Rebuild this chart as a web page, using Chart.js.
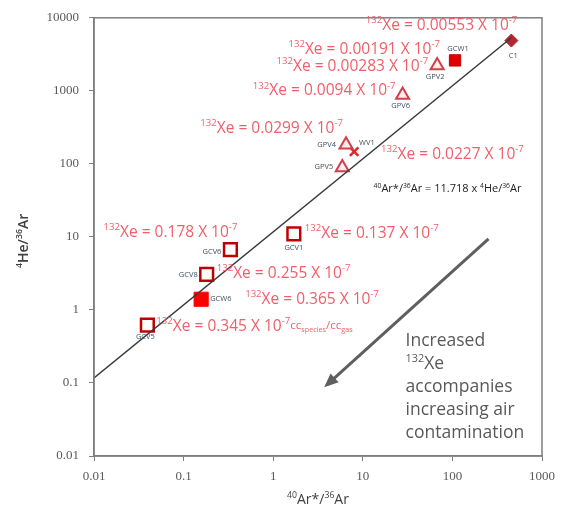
<!DOCTYPE html>
<html>
<head>
<meta charset="utf-8">
<script src="https://cdn.jsdelivr.net/npm/chart.js@4.4.1/dist/chart.umd.min.js"></script>
<style>
  html, body { margin: 0; padding: 0; background: #fff; }
  canvas { display: block; }
</style>
</head>
<body>
<canvas id="myChart" width="563" height="512"></canvas>
<script>
// sample data
const samples = ['C1', 'GCW1', 'GPV2', 'GPV6', 'GPV4', 'WV1', 'GPV5', 'GCV6', 'GCV1', 'GCV8', 'GCW6', 'GCV5'];
const arRatio = [455, 107, 67.6, 27.8, 6.5, 8.0, 5.9, 0.333, 1.70, 0.181, 0.157, 0.0394];
const heRatio = [4875, 2610, 2230, 875, 183, 147, 89, 6.7, 11.0, 3.06, 1.40, 0.62];
const xe132 = ['0.00553', '0.00191', '0.00283', '0.0094', '0.0299', '0.0227', null, '0.178', '0.137', '0.255', '0.365', '0.345'];
const kinds = ['diamond', 'solidSquare', 'triangle', 'triangle', 'triangle', 'cross', 'triangle', 'openSquare', 'openSquare', 'openSquare', 'bigSquare', 'openSquare'];

// fitted line and arrow
const slope = 11.718;
const lineX = [0.01, 455];
const arrowX = [253, 4.0];
const arrowY = [9.4, 0.095];

const xTicks = [0.01, 0.1, 1, 10, 100, 1000];
const yTicks = [0.01, 0.1, 1, 10, 100, 1000, 10000];

// where the text goes, in px relative to the point
const xeLabelPos = {
  C1: [6, -15, 'right'], GCW1: [-15, -11, 'right'], GPV2: [-9, 1, 'right'], GPV6: [-7, -4, 'right'],
  GPV4: [-3, -16, 'right'], WV1: [27, 3, 'left'], GCV6: [7, -17, 'right'], GCV1: [11, 0, 'left'],
  GCV8: [10, -1, 'left'], GCW6: [44, 0, 'left'], GCV5: [9, 1, 'left']
};
const nameLabelPos = {
  C1: [2, 15, 'center'], GCW1: [3, -12, 'center'], GPV2: [-2, 11, 'center'], GPV6: [-2, 11, 'center'],
  GPV4: [-10, 0, 'right'], WV1: [5, -9, 'left'], GPV5: [-9, -1, 'right'], GCV6: [-9, 2, 'right'],
  GCV1: [0, 14, 'center'], GCV8: [-9, 0, 'right'], GCW6: [9, 0, 'left'], GCV5: [-2, 12, 'center']
};

const styles = {
  diamond: { pointStyle: 'rectRot', radius: 6.5, bg: '#B3262E', border: '#9E1F26', width: 1 },
  solidSquare: { pointStyle: 'rect', radius: 8, bg: '#E00000', border: '#C00000', width: 1 },
  bigSquare: { pointStyle: 'rect', radius: 10, bg: '#FF0000', border: '#FF0000', width: 1 },
  openSquare: { pointStyle: 'rect', radius: 9, bg: '#FFFFFF', border: '#C00000', width: 2.5 },
  triangle: { pointStyle: 'triangle', radius: 7.5, bg: 'rgba(255,230,230,0.7)', border: '#D0404A', width: 2 },
  cross: { pointStyle: 'crossRot', radius: 6, bg: '#E02828', border: '#E02828', width: 2.5 }
};

const textRed = '#EF5F69';
const sans = '"Open Sans", sans-serif';

function xeSegs(i) {
  let segs = [{ t: '132', s: 'sup' }, { t: 'Xe = ' + xe132[i] + ' X 10' }, { t: '-7', s: 'sup' }];
  if (samples[i] === 'GCV5') {
    segs = segs.concat([{ t: 'cc', k: 0.75 }, { t: 'species', s: 'sub', k: 0.75 }, { t: '/cc', k: 0.75 }, { t: 'gas', s: 'sub', k: 0.75 }]);
  }
  return segs;
}

function drawRich(ctx, segs, x, y, align, size, color, weight) {
  weight = weight || 'normal';
  let total = 0;
  segs.forEach(sg => {
    const base = size * (sg.k || 1);
    const fs = sg.s ? base * 0.62 : base;
    ctx.font = weight + ' ' + fs + 'px ' + sans;
    sg.w = ctx.measureText(sg.t).width;
    sg.fs = fs;
    total += sg.w;
  });
  let cx = x;
  if (align === 'right') cx = x - total;
  if (align === 'center') cx = x - total / 2;
  ctx.fillStyle = color;
  ctx.textBaseline = 'middle';
  ctx.textAlign = 'left';
  segs.forEach(sg => {
    ctx.font = weight + ' ' + sg.fs + 'px ' + sans;
    let dy = 0;
    if (sg.s === 'sup') dy = -size * 0.33;
    if (sg.s === 'sub') dy = size * 0.22;
    ctx.fillText(sg.t, cx, y + dy);
    cx += sg.w;
  });
}

const datasets = [];

datasets.push({
  type: 'line',
  data: lineX.map(x => ({ x: x, y: x * slope })),
  borderColor: '#3A3A3A',
  borderWidth: 1.5,
  pointRadius: 0,
  fill: false
});

datasets.push({
  type: 'line',
  data: arrowX.map((x, i) => ({ x: x, y: arrowY[i] })),
  borderColor: '#5F5F5F',
  borderWidth: 3,
  pointRadius: 0,
  fill: false
});

Object.keys(styles).forEach(kind => {
  const st = styles[kind];
  const pts = [];
  samples.forEach((s, i) => {
    if (kinds[i] === kind) pts.push({ x: arRatio[i], y: heRatio[i] });
  });
  datasets.push({
    type: 'scatter',
    data: pts,
    pointStyle: st.pointStyle,
    pointRadius: st.radius,
    backgroundColor: st.bg,
    borderColor: st.border,
    pointBorderWidth: st.width
  });
});

const annotations = {
  id: 'annotations',
  afterDraw(chart) {
    const ctx = chart.ctx;
    const xs = chart.scales.x, ys = chart.scales.y;
    const area = chart.chartArea;
    ctx.save();

    // box
    ctx.strokeStyle = '#7F7F7F';
    ctx.lineWidth = 1.5;
    ctx.strokeRect(area.left, area.top, area.right - area.left, area.bottom - area.top);

    // arrow head
    const ax0 = xs.getPixelForValue(arrowX[0]), ay0 = ys.getPixelForValue(arrowY[0]);
    const ax1 = xs.getPixelForValue(arrowX[1]), ay1 = ys.getPixelForValue(arrowY[1]);
    const ang = Math.atan2(ay1 - ay0, ax1 - ax0);
    ctx.fillStyle = '#5F5F5F';
    ctx.beginPath();
    ctx.moveTo(ax1 + 4 * Math.cos(ang), ay1 + 4 * Math.sin(ang));
    ctx.lineTo(ax1 - 10 * Math.cos(ang) + 6 * Math.sin(ang), ay1 - 10 * Math.sin(ang) - 6 * Math.cos(ang));
    ctx.lineTo(ax1 - 10 * Math.cos(ang) - 6 * Math.sin(ang), ay1 - 10 * Math.sin(ang) + 6 * Math.cos(ang));
    ctx.closePath();
    ctx.fill();

    // sample names and xenon labels
    samples.forEach((s, i) => {
      const px = xs.getPixelForValue(arRatio[i]);
      const py = ys.getPixelForValue(heRatio[i]);
      const n = nameLabelPos[s];
      ctx.font = '7.5px ' + sans;
      ctx.fillStyle = '#3E5060';
      ctx.textAlign = n[2];
      ctx.textBaseline = 'middle';
      ctx.fillText(s, px + n[0], py + n[1]);
      if (xe132[i]) {
        const p = xeLabelPos[s];
        drawRich(ctx, xeSegs(i), px + p[0], py + p[1], p[2], 15.5, textRed);
      }
    });

    // line equation
    drawRich(ctx, [{ t: '40', s: 'sup' }, { t: 'Ar*/' }, { t: '36', s: 'sup' }, { t: 'Ar = 11.718 x ' },
      { t: '4', s: 'sup' }, { t: 'He/' }, { t: '36', s: 'sup' }, { t: 'Ar' }],
      xs.getPixelForValue(13.2), ys.getPixelForValue(45), 'left', 11, '#222222');

    // contamination note
    const nx = xs.getPixelForValue(30);
    const ny = ys.getPixelForValue(0.37);
    const note = [
      [{ t: 'Increased' }],
      [{ t: '132', s: 'sup' }, { t: 'Xe' }],
      [{ t: 'accompanies' }],
      [{ t: 'increasing air' }],
      [{ t: 'contamination' }]
    ];
    note.forEach((segs, k) => drawRich(ctx, segs, nx, ny + k * 23, 'left', 17.5, '#595959'));

    // axis titles
    drawRich(ctx, [{ t: '40', s: 'sup' }, { t: 'Ar*/' }, { t: '36', s: 'sup' }, { t: 'Ar' }],
      (area.left + area.right) / 2, 500, 'center', 14, '#404040');
    ctx.translate(24, (area.top + area.bottom) / 2 + 4);
    ctx.rotate(-Math.PI / 2);
    drawRich(ctx, [{ t: '4', s: 'sup' }, { t: 'He/' }, { t: '36', s: 'sup' }, { t: 'Ar' }],
      0, 0, 'center', 14, '#404040', '600');
    ctx.restore();
  }
};

const tickFont = { family: '"Liberation Serif", serif', size: 13 };

const config = {
  data: { datasets: datasets },
  options: {
    responsive: false,
    animation: false,
    layout: { padding: { top: 14, right: 17, left: 0, bottom: 0 } },
    plugins: { legend: { display: false }, tooltip: { enabled: false } },
    scales: {
      x: {
        type: 'logarithmic',
        min: 0.01,
        max: 1000,
        afterBuildTicks: s => { s.ticks = xTicks.map(v => ({ value: v })); },
        afterFit: s => { s.height = 56; },
        ticks: { color: '#595959', font: tickFont, padding: 8, callback: v => String(v), maxRotation: 0 },
        grid: { drawOnChartArea: false, tickLength: 5, color: '#7F7F7F' },
        border: { color: '#7F7F7F', width: 1.5 }
      },
      y: {
        type: 'logarithmic',
        min: 0.01,
        max: 10000,
        afterBuildTicks: s => { s.ticks = yTicks.map(v => ({ value: v })); },
        afterFit: s => { s.width = 94; },
        ticks: { color: '#595959', font: tickFont, padding: 10, callback: v => String(v) },
        grid: { drawOnChartArea: false, tickLength: 5, color: '#7F7F7F' },
        border: { color: '#7F7F7F', width: 1.5 }
      }
    }
  },
  plugins: [annotations]
};

const myChart = new Chart(document.getElementById('myChart'), config);
</script>
</body>
</html>
